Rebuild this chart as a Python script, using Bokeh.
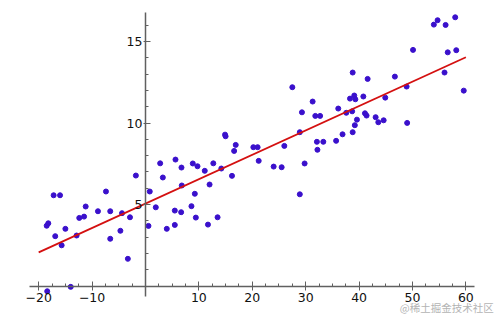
from bokeh.plotting import figure
from bokeh.models import LinearAxis, FixedTicker, Range1d, Label, ColumnDataSource
from bokeh.embed import file_html
from bokeh.resources import INLINE

# scatter data
x_vals = [-18.5, -18.2, -17.2, -16.0, -16.9, -15.7, -15.0, -12.9, -12.4, -11.5,
          -11.2, -8.9, -7.4, -6.6, -6.6, -4.4, -4.7, -3.3, -2.9, -1.8,
          0.56, 0.8, -18.4, -14.0,
          1.93, 2.75, 3.25, 3.99, 5.49, 5.49, 5.62, 6.68, 6.74, 6.80,
          8.61, 8.86, 9.24, 9.43, 9.74, 11.1, 11.7, 12.0, 12.7, 13.5,
          14.2, 14.9, 15.0, 16.2, 16.6, 16.9, 20.2, 21.0, 21.2,
          24.0, 25.5, 26.0, 27.5, 28.9, 28.9, 29.3, 29.8, 31.3, 31.8,
          32.7, 32.1, 32.2, 33.3, 35.7, 36.1, 36.9, 37.6, 38.3, 38.7,
          38.8, 39.1, 39.3, 38.8, 39.2, 39.6, 40.8, 41.1, 41.4, 41.6,
          43.1, 43.6, 44.6, 44.9, 46.7, 48.9, 49.0, 50.1, 54.0, 54.7,
          56.2, 58.0, 56.6, 58.2, 56.0, 59.6]
y_vals = [3.70, 3.85, 5.57, 5.57, 3.06, 2.50, 3.51, 3.10, 4.18, 4.26,
          4.88, 4.59, 5.80, 4.59, 2.90, 4.47, 3.39, 1.67, 4.22, 6.78,
          3.69, 5.80, -0.32, -0.05,
          4.83, 7.53, 6.66, 3.51, 4.63, 3.75, 7.76, 4.53, 7.27, 6.17,
          4.90, 7.52, 5.66, 4.20, 7.35, 7.07, 3.77, 6.23, 7.53, 4.22,
          7.21, 9.29, 9.19, 6.76, 8.29, 8.66, 8.52, 8.52, 7.68,
          7.33, 7.29, 8.60, 12.20, 9.44, 5.63, 10.66, 7.52, 11.32, 10.44,
          10.44, 8.85, 8.36, 8.85, 8.91, 10.89, 9.31, 10.63, 11.50, 10.72,
          13.10, 11.69, 11.46, 9.44, 9.87, 10.21, 11.63, 10.60, 10.46, 12.71,
          10.36, 10.05, 10.17, 11.56, 12.85, 12.24, 10.01, 14.49, 16.04, 16.31,
          16.02, 16.49, 14.34, 14.47, 13.10, 11.99]

# fitted regression line end points
fit_x = [-20, 60]
fit_y = [2.07, 14.04]

# ticks
x_major_ticks = [-20, -10, 10, 20, 30, 40, 50, 60]
x_minor_ticks = [-20, -17.5, -15, -12.5, -10, -7.5, -5, -2.5, 0, 2.5, 5, 7.5,
                 10, 12.5, 15, 17.5, 20, 22.5, 25, 27.5, 30, 32.5, 35, 37.5,
                 40, 42.5, 45, 47.5, 50, 52.5, 55, 57.5, 60]
y_major_ticks = [5, 10, 15]
y_minor_ticks = [0, 1, 2, 3, 4, 5, 6, 7, 8, 9, 10, 11, 12, 13, 14, 15, 16]

# axis extents
x_axis_bounds = (-21.7, 61.6)
y_axis_bounds = (-0.65, 16.8)

watermark = "@稀土掘金技术社区"

p = figure(width=497, height=317,
           x_range=Range1d(-27.15, 65.92), y_range=Range1d(-1.93, 17.52),
           output_backend="svg", toolbar_location=None,
           x_axis_location=None, y_axis_location=None,
           min_border_left=0, min_border_right=0,
           min_border_top=0, min_border_bottom=0)
p.outline_line_color = None
p.background_fill_color = "white"
p.border_fill_color = "white"
for g in p.grid:
    g.visible = False

axis_color = "#606060"
font = "DejaVu Sans"

xaxis = LinearAxis(fixed_location=0, bounds=x_axis_bounds,
                   ticker=FixedTicker(ticks=x_major_ticks, minor_ticks=x_minor_ticks))
xaxis.axis_line_color = axis_color
xaxis.axis_line_width = 1.5
xaxis.major_tick_line_color = axis_color
xaxis.minor_tick_line_color = axis_color
xaxis.major_tick_in = 5
xaxis.major_tick_out = 4
xaxis.minor_tick_in = 3
xaxis.minor_tick_out = 0
xaxis.major_label_standoff = 3
xaxis.major_label_text_font = font
xaxis.major_label_text_font_size = "12.5px"
xaxis.major_label_text_color = "#111111"
p.add_layout(xaxis, "below")

yaxis = LinearAxis(fixed_location=0, bounds=y_axis_bounds,
                   ticker=FixedTicker(ticks=y_major_ticks, minor_ticks=y_minor_ticks))
yaxis.axis_line_color = axis_color
yaxis.axis_line_width = 1.5
yaxis.major_tick_line_color = axis_color
yaxis.minor_tick_line_color = axis_color
yaxis.major_tick_in = 5
yaxis.major_tick_out = 2
yaxis.minor_tick_in = 3
yaxis.minor_tick_out = 0
yaxis.major_label_standoff = 1
yaxis.major_label_text_font = font
yaxis.major_label_text_font_size = "12.5px"
yaxis.major_label_text_color = "#111111"
p.add_layout(yaxis, "left")

src = ColumnDataSource(dict(x=x_vals, y=y_vals))
p.scatter("x", "y", source=src, size=5, fill_color="#3a10cc", line_color="#3a10cc")

p.line(fit_x, fit_y, line_color="#d41010", line_width=1.8)

p.add_layout(Label(x=65.2, y=-1.29, text=watermark, text_align="right",
                   text_baseline="middle", text_font="Noto Sans CJK SC",
                   text_font_size="10.5px", text_color="#b4b4b4"))

open("out.html", "w").write(file_html(p, INLINE))
